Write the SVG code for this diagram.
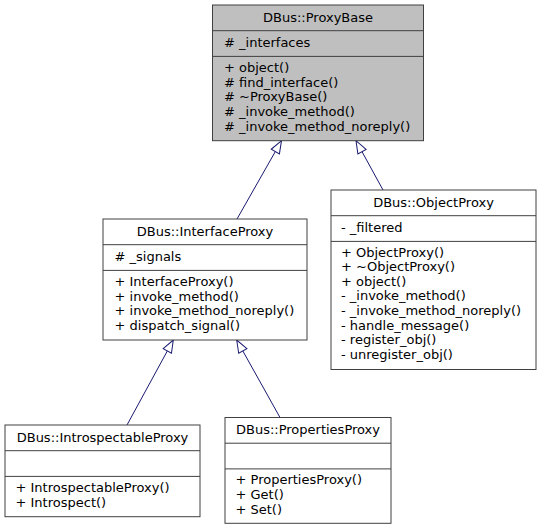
<svg xmlns="http://www.w3.org/2000/svg" width="541" height="529" viewBox="0 0 541 529">
<style>
  .box { fill: #ffffff; stroke: #404040; stroke-width: 1; }
  .focus { fill: #bfbfbf; }
  .sep { stroke: #404040; stroke-width: 1; }
  text { font-family: "DejaVu Sans", "Liberation Sans", sans-serif; font-size: 13px; fill: #000000; }
  .title { text-anchor: middle; }
  .edge { fill: none; stroke: #191970; stroke-width: 1; marker-end: url(#inherit); }
</style>
<defs>
  <marker id="inherit" markerUnits="userSpaceOnUse" markerWidth="16" markerHeight="14" refX="13" refY="6" orient="auto" overflow="visible">
    <path d="M0.5,1.3 L13,6 L0.5,10.7 Z" fill="#ffffff" stroke="#191970" stroke-width="1"/>
  </marker>
</defs>
<rect width="541" height="529" fill="#ffffff"/>

<g id="connectors">
  <path class="edge" d="M237,219 L281.5,140.7"/>
  <path class="edge" d="M383,190 L356,140.7"/>
  <path class="edge" d="M127,425 L173.3,340"/>
  <path class="edge" d="M280,417.5 L236.7,340"/>
</g>

<g id="ProxyBase">
  <rect class="box focus" x="212.5" y="5" width="211" height="135.7"/>
  <line class="sep" x1="212.5" y1="30.7" x2="423.5" y2="30.7"/>
  <line class="sep" x1="212.5" y1="56.4" x2="423.5" y2="56.4"/>
  <text class="title" x="318" y="21.5">DBus::ProxyBase</text>
  <text x="224" y="46.7"># _interfaces</text>
  <text x="224" y="71.9">+ object()</text>
  <text x="224" y="86.6"># find_interface()</text>
  <text x="224" y="101.2"># ~ProxyBase()</text>
  <text x="224" y="115.9"># _invoke_method()</text>
  <text x="224" y="130.6"># _invoke_method_noreply()</text>
</g>

<g id="InterfaceProxy">
  <rect class="box" x="103" y="219" width="204" height="121"/>
  <line class="sep" x1="103" y1="244.7" x2="307" y2="244.7"/>
  <line class="sep" x1="103" y1="270.4" x2="307" y2="270.4"/>
  <text class="title" x="205" y="235.5">DBus::InterfaceProxy</text>
  <text x="114.5" y="260.7"># _signals</text>
  <text x="114.5" y="285.9">+ InterfaceProxy()</text>
  <text x="114.5" y="300.6">+ invoke_method()</text>
  <text x="114.5" y="315.2">+ invoke_method_noreply()</text>
  <text x="114.5" y="329.9">+ dispatch_signal()</text>
</g>

<g id="ObjectProxy">
  <rect class="box" x="331" y="190" width="205" height="179.5"/>
  <line class="sep" x1="331" y1="215.7" x2="536" y2="215.7"/>
  <line class="sep" x1="331" y1="241.4" x2="536" y2="241.4"/>
  <text class="title" x="433.5" y="206.5">DBus::ObjectProxy</text>
  <text x="341" y="231.7">- _filtered</text>
  <text x="341" y="256.6">+ ObjectProxy()</text>
  <text x="341" y="271.2">+ ~ObjectProxy()</text>
  <text x="341" y="285.8">+ object()</text>
  <text x="341" y="300.4">- _invoke_method()</text>
  <text x="341" y="315.0">- _invoke_method_noreply()</text>
  <text x="341" y="329.6">- handle_message()</text>
  <text x="341" y="344.2">- register_obj()</text>
  <text x="341" y="358.8">- unregister_obj()</text>
</g>

<g id="IntrospectableProxy">
  <rect class="box" x="5" y="425" width="195" height="91.7"/>
  <line class="sep" x1="5" y1="450.7" x2="200" y2="450.7"/>
  <line class="sep" x1="5" y1="476.4" x2="200" y2="476.4"/>
  <text class="title" x="102.5" y="441.5">DBus::IntrospectableProxy</text>
  <text x="15.5" y="491.9">+ IntrospectableProxy()</text>
  <text x="15.5" y="506.6">+ Introspect()</text>
</g>

<g id="PropertiesProxy">
  <rect class="box" x="225" y="417.5" width="166" height="105.8"/>
  <line class="sep" x1="225" y1="443.2" x2="391" y2="443.2"/>
  <line class="sep" x1="225" y1="468.9" x2="391" y2="468.9"/>
  <text class="title" x="308" y="434">DBus::PropertiesProxy</text>
  <text x="235.5" y="484.4">+ PropertiesProxy()</text>
  <text x="235.5" y="499.1">+ Get()</text>
  <text x="235.5" y="513.7">+ Set()</text>
</g>
</svg>
